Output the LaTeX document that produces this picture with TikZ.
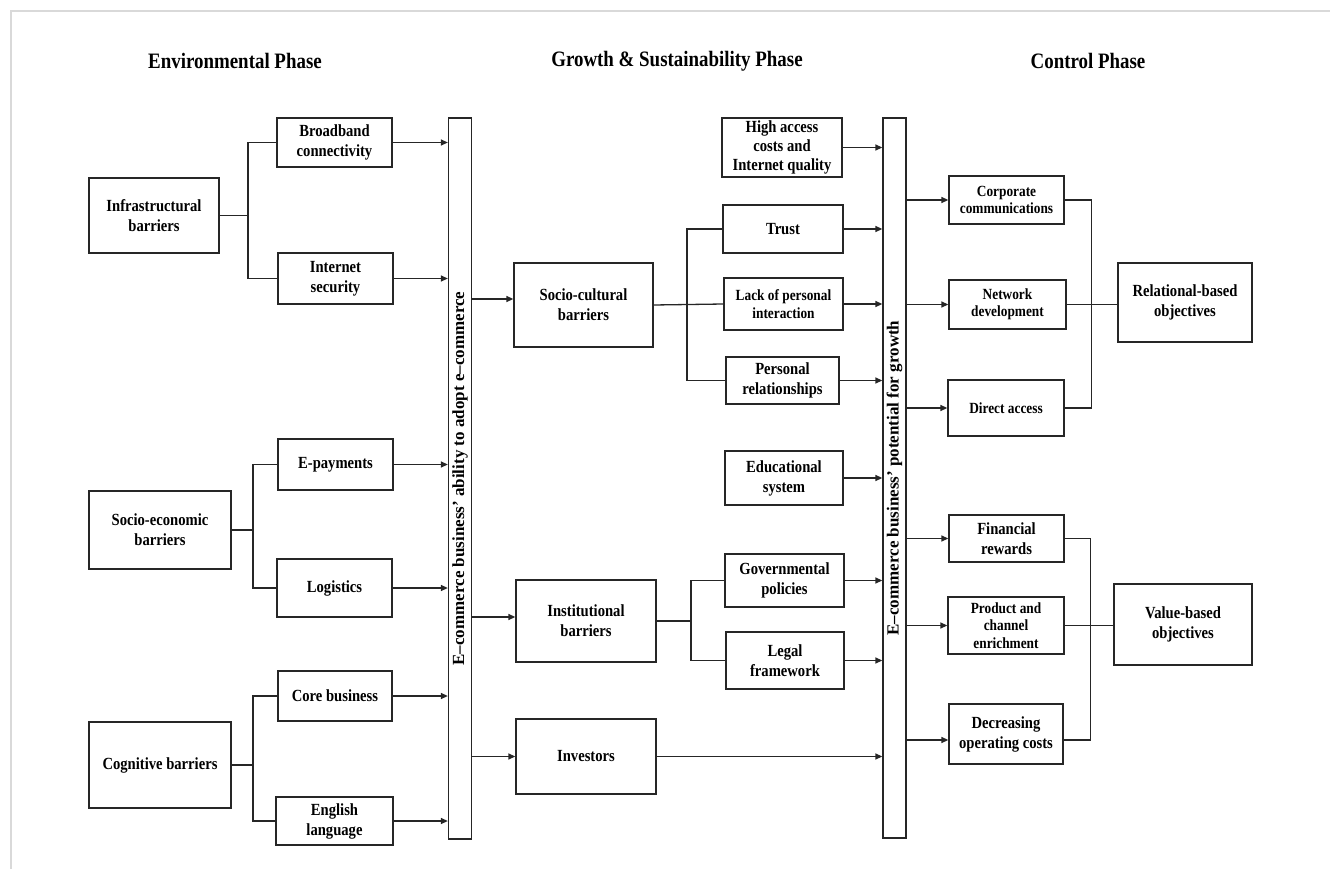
\documentclass[tikz,border=0pt]{standalone}
\usepackage{fontspec}
\setmainfont{Liberation Serif}[FakeStretch=0.86]
\newfontfamily\barfont{Liberation Serif}
\usetikzlibrary{arrows.meta}
\tikzset{
  box/.style={draw=black!85, line width=1.3pt, align=center, inner sep=0pt, font=\bfseries\fontsize{17}{20}\selectfont},
  smallbox/.style={box, font=\bfseries\fontsize{15.5}{17.5}\selectfont},
  bar/.style={draw=black!85, line width=1.3pt, inner sep=0pt, minimum width=23, font=\barfont\bfseries\fontsize{17}{20}\selectfont},
  conn/.style={line width=1.3pt, black!85},
  arr/.style={conn, -{Triangle[length=7pt,width=6pt]}},
  phase/.style={font=\bfseries\fontsize{22}{26}\selectfont}
}
\begin{document}
\begin{tikzpicture}[x=1pt,y=-1pt]
 \useasboundingbox (0,0) rectangle (1330,869);
 \draw[gray!30, line width=1.5pt] (11,869) -- (11,11) -- (1330,11);

 % phase titles
 \node[phase] (envtitle) at (235,61) {Environmental Phase};
 \node[phase] (growtitle) at (677,61) {Growth \& Sustainability Phase};
 \node[phase] (ctrltitle) at (1088,61) {Control Phase};

 % environmental phase
 \node[box, minimum width=130, minimum height=75] (infra) at (154,215.5) {Infrastructural\\barriers};
 \node[box, minimum width=115, minimum height=49] (broad) at (334.5,142.5) {Broadband\\connectivity};
 \node[box, minimum width=115, minimum height=51] (isec) at (335.5,278.5) {Internet\\security};
 \node[box, minimum width=142, minimum height=78] (socioe) at (160,530) {Socio-economic\\barriers};
 \node[box, minimum width=115, minimum height=51] (epay) at (335.5,464.5) {E-payments};
 \node[box, minimum width=115, minimum height=58] (logis) at (334.5,588) {Logistics};
 \node[box, minimum width=142, minimum height=86] (cogn) at (160,765) {Cognitive barriers};
 \node[box, minimum width=114, minimum height=50] (core) at (335,696) {Core business};
 \node[box, minimum width=117, minimum height=48] (engl) at (334.5,821) {English\\language};
 \node[bar, minimum height=721] (barA) at (460,478.5) {\rotatebox{90}{E–commerce business’ ability to adopt e–commerce}};

 % growth & sustainability phase
 \node[box, minimum width=139, minimum height=84] (socc) at (583.5,305) {Socio-cultural\\barriers};
 \node[box, minimum width=140, minimum height=82] (inst) at (586,621) {Institutional\\barriers};
 \node[box, minimum width=140, minimum height=75] (inv) at (586,756.5) {Investors};
 \node[box, minimum width=120, minimum height=59, font=\bfseries\fontsize{17}{19}\selectfont] (high) at (782,147.5) {High access\\costs and\\Internet quality};
 \node[box, minimum width=120, minimum height=48] (trust) at (783,229) {Trust};
 \node[smallbox, minimum width=119, minimum height=52] (lack) at (783.5,304) {Lack of personal\\interaction};
 \node[box, minimum width=113, minimum height=47] (pers) at (782.5,380.5) {Personal\\relationships};
 \node[box, minimum width=118, minimum height=54] (edu) at (784,478) {Educational\\system};
 \node[box, minimum width=119, minimum height=53] (gov) at (784.5,580.5) {Governmental\\policies};
 \node[box, minimum width=118, minimum height=57] (legal) at (785,660.5) {Legal\\framework};
 \node[bar, minimum height=720] (barB) at (894.5,478) {\rotatebox{90}{E–commerce business’ potential for growth}};

 % control phase
 \node[smallbox, minimum width=115, minimum height=48] (corp) at (1006.5,200) {Corporate\\communications};
 \node[smallbox, minimum width=117, minimum height=49] (netw) at (1007.5,304.5) {Network\\development};
 \node[smallbox, minimum width=116, minimum height=56] (direct) at (1006,408) {Direct access};
 \node[box, minimum width=115, minimum height=47] (fin) at (1006.5,538.5) {Financial\\rewards};
 \node[smallbox, minimum width=116, minimum height=57] (prod) at (1006,625.5) {Product and\\channel\\enrichment};
 \node[box, minimum width=114, minimum height=60] (decr) at (1006,734) {Decreasing\\operating costs};
 \node[box, minimum width=134, minimum height=79] (rel) at (1185,302.5) {Relational-based\\objectives};
 \node[box, minimum width=138, minimum height=81] (val) at (1183,624.5) {Value-based\\objectives};

 \coordinate (j1) at (248,215.5);
 \coordinate (j2) at (253,530);
 \coordinate (j3) at (253,765);
 \coordinate (j4) at (687,305);
 \coordinate (j5) at (691,621);

 \draw[conn] (infra.east) -- (j1);
 \draw[conn] (broad.west) -| (j1) |- (isec.west);
 \draw[conn] (socioe.east) -- (j2);
 \draw[conn] (epay.west) -| (j2) |- (logis.west);
 \draw[conn] (cogn.east) -- (j3);
 \draw[conn] (core.west) -| (j3) |- (engl.west);
 \foreach \n in {broad,isec,epay,logis,core,engl}
  \draw[arr] (\n.east) -- (\n.east -| barA.west);

 \draw[arr] ([yshift=6pt]socc.west -| barA.east) -- ([yshift=6pt]socc.west);
 \draw[arr] ([yshift=4pt]inst.west -| barA.east) -- ([yshift=4pt]inst.west);
 \draw[arr] (inv.west -| barA.east) -- (inv.west);

 \draw[conn] (socc.east) -- (lack.west);
 \draw[conn] (trust.west) -| (j4) |- (pers.west);
 \draw[conn] (inst.east) -- (j5);
 \draw[conn] (gov.west) -| (j5) |- (legal.west);
 \foreach \n in {high,trust,lack,pers,edu,gov,legal,inv}
  \draw[arr] (\n.east) -- (\n.east -| barB.west);

 \foreach \n in {corp,netw,direct,fin,prod}
  \draw[arr] (\n.west -| barB.east) -- (\n.west);
 \draw[arr] ([yshift=-6pt]decr.west -| barB.east) -- ([yshift=-6pt]decr.west);

 \draw[conn] (corp.east) -- ++(27,0) |- (direct.east);
 \draw[conn] (netw.east) -- (netw.east -| rel.west);
 \draw[conn] (fin.east) -- ++(26,0) |- ([yshift=-6pt]decr.east);
 \draw[conn] (prod.east) -- (prod.east -| val.west);
\end{tikzpicture}
\end{document}
